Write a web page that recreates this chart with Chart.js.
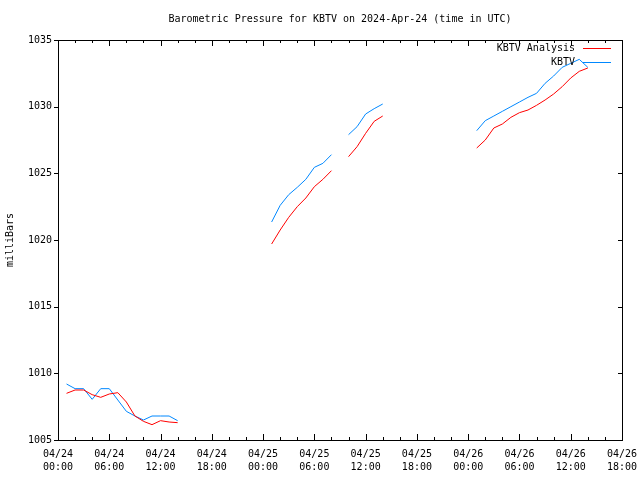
<!DOCTYPE html>
<html>
<head>
<meta charset="utf-8">
<script src="https://cdn.jsdelivr.net/npm/chart.js@4"></script>
<style>
  body { margin: 0; background: #fff; }
  canvas { display: block; }
</style>
</head>
<body>
<canvas id="pressureChart" width="640" height="480"></canvas>
<script>
// hours since 2024-04-24 00:00 UTC, null rows break the line
const hours = [1, 2, 3, 4, 5, 6, 7, 8, 9, 10, 11, 12, 13, 14, 20,
  25, 26, 27, 28, 29, 30, 31, 32, 33, 34, 35, 36, 37, 38, 44,
  49, 50, 51, 52, 53, 54, 55, 56, 57, 58, 59, 60, 61, 62];
const analysis = [1008.5, 1008.75, 1008.75, 1008.4, 1008.2, 1008.45, 1008.55, 1007.85, 1006.8, 1006.4, 1006.15, 1006.45, 1006.35, 1006.3, null,
  1019.7, 1020.75, 1021.7, 1022.5, 1023.15, 1024.0, 1024.55, 1025.2, null,
  1026.25, 1027.0, 1028.0, 1028.9, 1029.3, null,
  1026.9, 1027.5, 1028.4, 1028.7, 1029.2, 1029.55, 1029.75, 1030.1, 1030.5, 1030.95, 1031.5, 1032.15, 1032.65, 1032.9];
const kbtv = [1009.2, 1008.85, 1008.85, 1008.05, 1008.85, 1008.85, 1008.0, 1007.15, 1006.8, 1006.5, 1006.8, 1006.8, 1006.8, 1006.45, null,
  1021.35, 1022.6, 1023.4, 1023.95, 1024.55, 1025.45, 1025.75, 1026.4, null,
  1027.9, 1028.5, 1029.45, 1029.85, 1030.2, null,
  1028.2, 1028.95, 1029.3, 1029.65, 1030.0, 1030.35, 1030.7, 1031.0, 1031.75, 1032.3, 1032.95, 1033.25, 1033.55, 1032.95];
const yTicks = [1005, 1010, 1015, 1020, 1025, 1030, 1035];
const xTicks = [0, 6, 12, 18, 24, 30, 36, 42, 48, 54, 60, 66];
const startDay = 24;

const FONT = '10px "DejaVu Sans Mono", monospace';

function toPoints(values) {
  return hours.map((h, i) => ({ x: h, y: values[i] }));
}

function pad(n) {
  return String(n).padStart(2, '0');
}

function xLabel(v) {
  const day = startDay + Math.floor(v / 24);
  return ['04/' + pad(day), pad(v % 24) + ':00'];
}

// gnuplot style frame, ticks, title, y title and legend
const frameDecor = {
  id: 'frameDecor',
  afterDraw(chart) {
    const ctx = chart.ctx;
    const area = chart.chartArea;
    const xs = chart.scales.x;
    const ys = chart.scales.y;
    ctx.save();
    ctx.strokeStyle = '#000';
    ctx.lineWidth = 1;
    ctx.strokeRect(Math.round(area.left) + 0.5, Math.round(area.top) + 0.5,
      Math.round(area.right - area.left), Math.round(area.bottom - area.top));
    ctx.beginPath();
    for (let h = 0; h <= 66; h += 2) {
      const px = Math.round(xs.getPixelForValue(h)) + 0.5;
      const len = h % 6 === 0 ? 6 : 3;
      ctx.moveTo(px, area.bottom);
      ctx.lineTo(px, area.bottom - len);
      ctx.moveTo(px, area.top);
      ctx.lineTo(px, area.top + len);
    }
    yTicks.forEach(v => {
      const py = Math.round(ys.getPixelForValue(v)) + 0.5;
      ctx.moveTo(area.left, py);
      ctx.lineTo(area.left - 4, py);
      ctx.moveTo(area.right, py);
      ctx.lineTo(area.right - 4, py);
    });
    ctx.stroke();

    ctx.fillStyle = '#000';
    ctx.font = FONT;
    ctx.textBaseline = 'middle';
    ctx.textAlign = 'center';
    ctx.fillText('Barometric Pressure for KBTV on 2024-Apr-24 (time in UTC)', 340, 19);

    ctx.save();
    ctx.translate(10, 240);
    ctx.rotate(-Math.PI / 2);
    ctx.fillText('milliBars', 0, 0);
    ctx.restore();

    ctx.textAlign = 'right';
    chart.data.datasets.forEach((ds, i) => {
      const y = 48 + i * 14;
      ctx.fillStyle = '#000';
      ctx.fillText(ds.label, 575, y);
      ctx.strokeStyle = ds.borderColor;
      ctx.beginPath();
      ctx.moveTo(583, y + 0.5);
      ctx.lineTo(611, y + 0.5);
      ctx.stroke();
    });
    ctx.restore();
  }
};

new Chart(document.getElementById('pressureChart'), {
  type: 'line',
  data: {
    datasets: [
      {
        label: 'KBTV Analysis',
        data: toPoints(analysis),
        borderColor: '#ff0000',
        borderWidth: 1,
        pointRadius: 0,
        spanGaps: false,
        tension: 0,
      },
      {
        label: 'KBTV',
        data: toPoints(kbtv),
        borderColor: '#0088ff',
        borderWidth: 1,
        pointRadius: 0,
        spanGaps: false,
        tension: 0,
      },
    ],
  },
  options: {
    responsive: false,
    animation: false,
    layout: {
      padding: { left: 0, right: 18, top: 40, bottom: 0 },
    },
    plugins: {
      legend: { display: false },
      tooltip: { enabled: false },
    },
    scales: {
      x: {
        type: 'linear',
        min: 0,
        max: 66,
        afterBuildTicks: scale => {
          scale.ticks = xTicks.map(v => ({ value: v }));
        },
        afterFit: scale => {
          scale.height = 40;
          scale.paddingLeft = 0;
          scale.paddingRight = 0;
        },
        grid: { display: false, drawTicks: false, tickLength: 0 },
        border: { display: false },
        ticks: {
          padding: 8,
          color: '#000',
          font: { family: '"DejaVu Sans Mono", monospace', size: 10, lineHeight: 1.3 },
          maxRotation: 0,
          autoSkip: false,
          callback: value => xLabel(value),
        },
      },
      y: {
        min: 1005,
        max: 1035,
        afterBuildTicks: scale => {
          scale.ticks = yTicks.map(v => ({ value: v }));
        },
        afterFit: scale => {
          scale.width = 58;
          scale.paddingTop = 0;
          scale.paddingBottom = 0;
        },
        grid: { display: false, drawTicks: false, tickLength: 0 },
        border: { display: false },
        ticks: {
          padding: 6,
          color: '#000',
          font: { family: '"DejaVu Sans Mono", monospace', size: 10 },
          callback: value => String(value),
        },
      },
    },
  },
  plugins: [frameDecor],
});
</script>
</body>
</html>
